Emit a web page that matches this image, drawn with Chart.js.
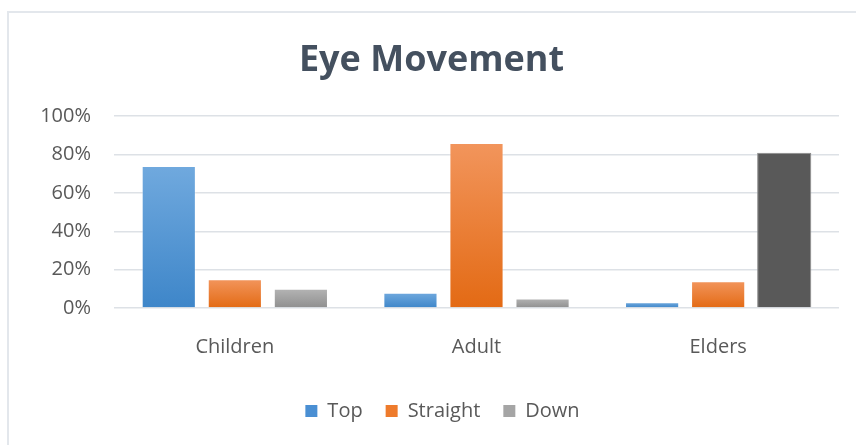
<!DOCTYPE html>
<html>
<head>
<meta charset="utf-8">
<script src="https://cdn.jsdelivr.net/npm/chart.js@4/dist/chart.umd.min.js"></script>
<style>
  html, body { margin: 0; padding: 0; background: #fff; }
  #wrap { position: relative; width: 856px; height: 445px; overflow: hidden; }
  #frame { position: absolute; left: 7px; top: 11px; right: -4px; bottom: -4px;
           border-left: 2px solid #e3e7ec; border-top: 2px solid #e3e7ec; }
  canvas { position: absolute; left: 0; top: 0; }
</style>
</head>
<body>
<div id="wrap">
  <div id="frame"></div>
  <canvas id="chart" width="856" height="445"></canvas>
</div>
<script>
const categories = ["Children", "Adult", "Elders"];
const seriesNames = ["Top", "Straight", "Down"];
const topValues = [74, 8, 3];
const straightValues = [15, 86, 14];
const downValues = [10, 5, 81];
const yTicks = [0, 20, 40, 60, 80, 100];

// gradient stops (light at top, dark at bottom) per series, like Excel's default
const shades = {
  Top: ["#70a9de", "#3e86c9"],
  Straight: ["#f2955c", "#e36a14"],
  Down: ["#b4b4b4", "#8f8f8f"]
};
const legendColors = ["#4a8fd3", "#ee7b2c", "#a5a5a5"];
const highlight = "#595959";

function barFill(name) {
  return (ctx) => {
    const chart = ctx.chart;
    if (name === "Down" && ctx.dataIndex === 2) return highlight;
    if (!chart.chartArea || ctx.raw == null) return shades[name][1];
    const y = chart.scales.y;
    const top = y.getPixelForValue(ctx.raw);
    const bottom = y.getPixelForValue(0);
    const g = chart.ctx.createLinearGradient(0, top, 0, bottom);
    g.addColorStop(0, shades[name][0]);
    g.addColorStop(1, shades[name][1]);
    return g;
  };
}

function barBorder(name) {
  return (ctx) => (name === "Down" && ctx.dataIndex === 2) ? "#8a8a8a" : "rgba(255,255,255,0.35)";
}

// the legend sits a little right of centre in the original
const legendShift = {
  id: "legendShift",
  afterLayout(chart) {
    if (chart.legend) {
      chart.legend.left += 11;
      chart.legend.right += 11;
    }
  }
};

const values = [topValues, straightValues, downValues];

new Chart(document.getElementById("chart").getContext("2d"), {
  type: "bar",
  data: {
    labels: categories,
    datasets: seriesNames.map((name, i) => ({
      label: name,
      data: values[i],
      backgroundColor: barFill(name),
      borderColor: barBorder(name),
      borderWidth: 1,
      categoryPercentage: 0.82,
      barPercentage: 0.82
    }))
  },
  plugins: [legendShift],
  options: {
    responsive: false,
    animation: false,
    layout: { padding: { top: 14, left: 24, right: 17, bottom: 14 } },
    plugins: {
      tooltip: { enabled: false },
      title: {
        display: true,
        text: "Eye Movement",
        color: "#44505f",
        font: { family: "'Open Sans'", size: 36, weight: "bold", lineHeight: 1.2 },
        padding: { top: 25, bottom: 34 }
      },
      legend: {
        position: "bottom",
        labels: {
          color: "#595959",
          font: { family: "'Open Sans'", size: 20 },
          boxWidth: 12,
          boxHeight: 12,
          padding: 23,
          generateLabels: (chart) => chart.data.datasets.map((ds, i) => ({
            text: ds.label,
            fillStyle: legendColors[i],
            strokeStyle: legendColors[i],
            lineWidth: 0,
            fontColor: "#595959",
            datasetIndex: i
          }))
        }
      }
    },
    scales: {
      x: {
        afterFit: (scale) => { scale.height = 70; },
        grid: { display: false, drawTicks: false },
        border: { display: false },
        ticks: {
          color: "#595959",
          font: { family: "'Open Sans'", size: 20 },
          padding: 27
        }
      },
      y: {
        min: 0,
        max: 100,
        afterBuildTicks: (scale) => { scale.ticks = yTicks.map((v) => ({ value: v })); },
        afterFit: (scale) => { scale.width = 90; },
        grid: { color: "#dde1e6", lineWidth: 1.5, drawTicks: false },
        border: { display: false },
        ticks: {
          color: "#595959",
          font: { family: "'Open Sans'", size: 20 },
          padding: 23,
          callback: (v) => v + "%"
        }
      }
    }
  }
});
</script>
</body>
</html>
